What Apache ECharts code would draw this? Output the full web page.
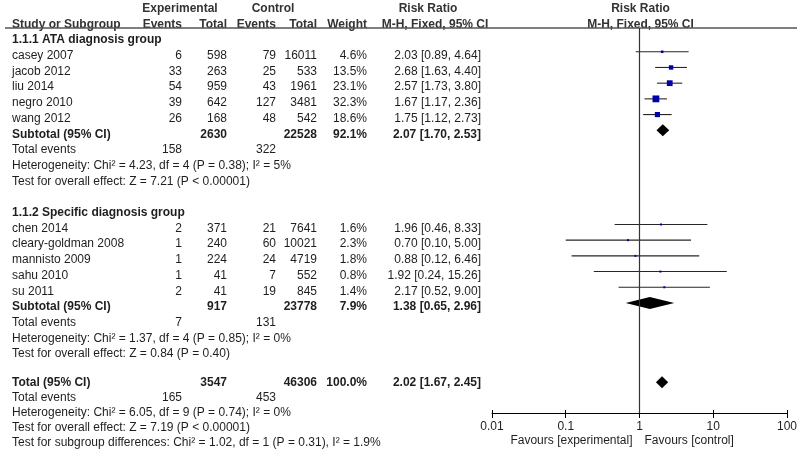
<!DOCTYPE html>
<html>
<head>
<meta charset="utf-8">
<script src="https://cdn.jsdelivr.net/npm/echarts@6/dist/echarts.min.js"></script>
<style>html,body{margin:0;padding:0;background:#fff}#c{width:800px;height:459px}</style>
</head>
<body>
<div id="c"></div>
<script>
// ---------- data ----------
const groupNames = ['1.1.1 ATA diagnosis group', '1.1.2 Specific diagnosis group'];
const groupRows = [0, 11];

const studyNames = ['casey 2007', 'jacob 2012', 'liu 2014', 'negro 2010', 'wang 2012',
  'chen 2014', 'cleary-goldman 2008', 'mannisto 2009', 'sahu 2010', 'su 2011'];
const studyRows = [1, 2, 3, 4, 5, 12, 13, 14, 15, 16];
const expEvents = [6, 33, 54, 39, 26, 2, 1, 1, 1, 2];
const expTotal = [598, 263, 959, 642, 168, 371, 240, 224, 41, 41];
const ctrlEvents = [79, 25, 43, 127, 48, 21, 60, 24, 7, 19];
const ctrlTotal = [16011, 533, 1961, 3481, 542, 7641, 10021, 4719, 552, 845];
const weights = [4.6, 13.5, 23.1, 32.3, 18.6, 1.6, 2.3, 1.8, 0.8, 1.4];
const rr = [2.03, 2.68, 2.57, 1.67, 1.75, 1.96, 0.70, 0.88, 1.92, 2.17];
const rrLow = [0.89, 1.63, 1.73, 1.17, 1.12, 0.46, 0.10, 0.12, 0.24, 0.52];
const rrHigh = [4.64, 4.40, 3.80, 2.36, 2.73, 8.33, 5.00, 6.46, 15.26, 9.00];

const pooledNames = ['Subtotal (95% CI)', 'Subtotal (95% CI)', 'Total (95% CI)'];
const pooledRows = [6, 17, 21.8];
const pooledExpTotal = [2630, 917, 3547];
const pooledCtrlTotal = [22528, 23778, 46306];
const pooledWeight = [92.1, 7.9, 100.0];
const pooledRR = [2.07, 1.38, 2.02];
const pooledLow = [1.70, 0.65, 1.67];
const pooledHigh = [2.53, 2.96, 2.45];

const eventRows = [7, 18, 22.8];
const eventsExp = [158, 7, 165];
const eventsCtrl = [322, 131, 453];

const hetRows = [8, 19, 23.75];
const hetTexts = [
  'Heterogeneity: Chi\u00B2 = 4.23, df = 4 (P = 0.38); I\u00B2 = 5%',
  'Heterogeneity: Chi\u00B2 = 1.37, df = 4 (P = 0.85); I\u00B2 = 0%',
  'Heterogeneity: Chi\u00B2 = 6.05, df = 9 (P = 0.74); I\u00B2 = 0%'
];
const effectRows = [9, 20, 24.7];
const effectTexts = [
  'Test for overall effect: Z = 7.21 (P < 0.00001)',
  'Test for overall effect: Z = 0.84 (P = 0.40)',
  'Test for overall effect: Z = 7.19 (P < 0.00001)'
];
const subgroupRow = 25.65;
const subgroupText = 'Test for subgroup differences: Chi\u00B2 = 1.02, df = 1 (P = 0.31), I\u00B2 = 1.9%';

const tickValues = [0.01, 0.1, 1, 10, 100];
const tickLabels = ['0.01', '0.1', '1', '10', '100'];
const favourLeft = 'Favours [experimental]';
const favourRight = 'Favours [control]';

// ---------- style / layout ----------
const FONT = '"Liberation Sans", Arial, Helvetica, sans-serif';
const TXT = '#1e1e1e';
const HDR = '#333333';
const BOX = '#0000a8';
const COL = {name: 12, expEv: 182, expTot: 227, ctrlEv: 276, ctrlTot: 317, weight: 367, ci: 481};
const markerShift = r => (r < 21 ? -0.25 : 0);

const chart = echarts.init(document.getElementById('c'), null, {renderer: 'canvas'});

const studyData = studyNames.map((n, i) => [rr[i], rrLow[i], rrHigh[i], studyRows[i], weights[i]]);
const pooledData = pooledNames.map((n, i) => [pooledRR[i], pooledLow[i], pooledHigh[i], pooledRows[i]]);

const labelFmt = v => {
  const k = tickValues.findIndex(t => Math.abs(Math.log10(t) - Math.log10(v)) < 1e-6);
  return k >= 0 ? tickLabels[k] : '';
};

chart.setOption({
  animation: false,
  grid: {left: 492, right: 13, top: 28, bottom: 46},
  xAxis: [
    {
      type: 'log', logBase: 10, min: 0.01, max: 100, position: 'bottom',
      axisLine: {show: true, onZero: false, lineStyle: {color: '#000', width: 1}},
      axisTick: {show: true, length: 5, lineStyle: {color: '#000'}},
      splitLine: {show: false},
      minorTick: {show: false},
      axisLabel: {fontSize: 12, color: TXT, fontFamily: FONT, margin: 8, formatter: labelFmt}
    },
    {
      type: 'log', logBase: 10, min: 0.01, max: 100, position: 'bottom',
      axisLine: {show: false, onZero: false},
      axisTick: {show: true, inside: true, length: 3, lineStyle: {color: '#000'}},
      splitLine: {show: false},
      axisLabel: {show: false}
    }
  ],
  yAxis: {type: 'value', inverse: true, min: -0.764, max: 23.758, show: false},
  series: [
    {
      type: 'custom',
      data: studyData,
      encode: {x: [0, 1, 2], y: 3},
      clip: false,
      renderItem: (params, api) => {
        const row = api.value(3) + markerShift(api.value(3));
        const c = api.coord([api.value(0), row]);
        const l = api.coord([api.value(1), row]);
        const h = api.coord([api.value(2), row]);
        const s = Math.max(2, 1.2 * Math.sqrt(api.value(4)));
        return {
          type: 'group',
          children: [
            {type: 'line', shape: {x1: l[0], y1: l[1], x2: h[0], y2: h[1]}, style: {stroke: '#262626', lineWidth: 1.1}},
            {type: 'rect', shape: {x: c[0] - s / 2, y: c[1] - s / 2, width: s, height: s}, style: {fill: BOX}}
          ]
        };
      },
      markLine: {
        silent: true, symbol: 'none', label: {show: false},
        lineStyle: {color: '#333', width: 1.2, type: 'solid'},
        data: [{xAxis: 1}]
      }
    },
    {
      type: 'custom',
      data: pooledData,
      encode: {x: [0, 1, 2], y: 3},
      clip: false,
      renderItem: (params, api) => {
        const row = api.value(3) + markerShift(api.value(3));
        const c = api.coord([api.value(0), row]);
        const l = api.coord([api.value(1), row]);
        const h = api.coord([api.value(2), row]);
        return {
          type: 'polygon',
          shape: {points: [[l[0], c[1]], [c[0], c[1] - 6], [h[0], c[1]], [c[0], c[1] + 6]]},
          style: {fill: '#000'}
        };
      }
    }
  ]
});

// ---------- table text ----------
const yOf = r => chart.convertToPixel({yAxisIndex: 0}, r);
const xOf = v => chart.convertToPixel({xAxisIndex: 0}, v);
const els = [];
function txt(s, x, row, align, bold, color, yPix) {
  els.push({
    type: 'text', x: x, y: (yPix !== undefined ? yPix : yOf(row)), silent: true,
    style: {
      text: String(s), fill: color || TXT,
      font: (bold ? 'bold ' : '') + '12px ' + FONT,
      align: align || 'left', verticalAlign: 'middle',
      textAlign: align || 'left', textVerticalAlign: 'middle'
    }
  });
}
const fmt2 = v => v.toFixed(2);
const ciText = (a, b, c) => fmt2(a) + ' [' + fmt2(b) + ', ' + fmt2(c) + ']';

// headers
txt('Experimental', 180, -2, 'center', true, HDR);
txt('Control', 273, -2, 'center', true, HDR);
txt('Risk Ratio', 428, -2, 'center', true, HDR);
txt('Study or Subgroup', COL.name, -1, 'left', true, HDR);
txt('Events', COL.expEv, -1, 'right', true, HDR);
txt('Total', COL.expTot, -1, 'right', true, HDR);
txt('Events', COL.ctrlEv, -1, 'right', true, HDR);
txt('Total', COL.ctrlTot, -1, 'right', true, HDR);
txt('Weight', COL.weight, -1, 'right', true, HDR);
txt('M-H, Fixed, 95% CI', 435, -1, 'center', true, HDR);
const x1 = xOf(1);
txt('Risk Ratio', x1 + 1, -2, 'center', true, HDR);
txt('M-H, Fixed, 95% CI', x1 + 1, -1, 'center', true, HDR);

groupNames.forEach((g, i) => txt(g, COL.name, groupRows[i], 'left', true, TXT));
studyNames.forEach((n, i) => {
  const r = studyRows[i];
  txt(n, COL.name, r, 'left');
  txt(expEvents[i], COL.expEv, r, 'right');
  txt(expTotal[i], COL.expTot, r, 'right');
  txt(ctrlEvents[i], COL.ctrlEv, r, 'right');
  txt(ctrlTotal[i], COL.ctrlTot, r, 'right');
  txt(weights[i].toFixed(1) + '%', COL.weight, r, 'right');
  txt(ciText(rr[i], rrLow[i], rrHigh[i]), COL.ci, r, 'right');
});
pooledNames.forEach((n, i) => {
  const r = pooledRows[i];
  txt(n, COL.name, r, 'left', true);
  txt(pooledExpTotal[i], COL.expTot, r, 'right', true);
  txt(pooledCtrlTotal[i], COL.ctrlTot, r, 'right', true);
  txt(pooledWeight[i].toFixed(1) + '%', COL.weight, r, 'right', true);
  txt(ciText(pooledRR[i], pooledLow[i], pooledHigh[i]), COL.ci, r, 'right', true);
});
eventRows.forEach((r, i) => {
  txt('Total events', COL.name, r, 'left');
  txt(eventsExp[i], COL.expEv, r, 'right');
  txt(eventsCtrl[i], COL.ctrlEv, r, 'right');
});
hetRows.forEach((r, i) => txt(hetTexts[i], COL.name, r, 'left'));
effectRows.forEach((r, i) => txt(effectTexts[i], COL.name, r, 'left'));
txt(subgroupText, COL.name, subgroupRow, 'left');

// favours labels under axis
txt(favourLeft, x1 - 7, null, 'right', false, TXT, 441);
txt(favourRight, x1 + 5, null, 'left', false, TXT, 441);

// header rule
els.push({type: 'line', silent: true, shape: {x1: 5, y1: 28, x2: 797, y2: 28}, style: {stroke: '#555', lineWidth: 1.5}});

chart.setOption({graphic: {elements: els}});
</script>
</body>
</html>
